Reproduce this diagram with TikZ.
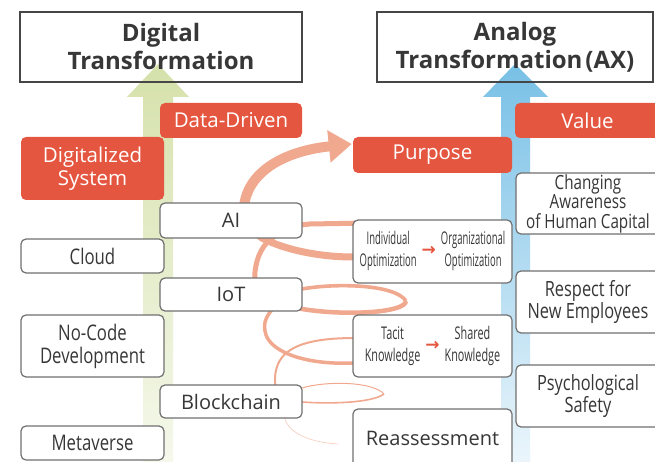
\documentclass[tikz,border=0pt]{standalone}
\usepackage{fontspec}
\usepackage{xcolor}
\usepackage{tikz}
\usetikzlibrary{arrows.meta, backgrounds}
\setmainfont{Open Sans}
\newfontfamily\condfont[FakeStretch=0.78]{Open Sans}
\newfontfamily\narrowfont[FakeStretch=0.54]{Open Sans}
\newfontfamily\slimfont[FakeStretch=0.62]{Open Sans}
\newfontfamily\symfont{DejaVu Sans}
\definecolor{dxgreen}{RGB}{206,220,156}
\definecolor{axblue}{RGB}{120,192,230}
\definecolor{tagred}{RGB}{229,86,64}
\definecolor{coilpink}{RGB}{240,168,142}
\definecolor{boxline}{RGB}{112,112,112}
\definecolor{titleline}{RGB}{70,70,70}
\definecolor{ink}{RGB}{55,55,55}
\newcommand{\shiftpair}[2]{\begin{tabular}{@{}c@{}}#1\end{tabular}\hspace{5pt}{\symfont\bfseries\fontsize{17}{17}\selectfont\color{tagred}→}\hspace{5pt}\begin{tabular}{@{}c@{}}#2\end{tabular}}
\tikzset{
  titlebox/.style={draw=titleline, line width=1.3pt, inner sep=0pt, align=center, text=ink, font=\bfseries\fontsize{24}{28}\selectfont},
  redtag/.style={fill=tagred, rounded corners=5pt, inner sep=0pt, align=center, text=white, font=\fontsize{20.5}{23.5}\selectfont},
  greybox/.style={draw=boxline, line width=1.2pt, fill=white, rounded corners=5pt, inner sep=0pt, align=center, text=ink, font=\fontsize{20}{23}\selectfont},
  condbox/.style={greybox, font=\condfont\fontsize{21.5}{23}\selectfont},
  pairbox/.style={greybox, font=\narrowfont\fontsize{17.5}{22}\selectfont},
  greenrise/.style={top color=dxgreen!85!white, bottom color=dxgreen!20!white},
  bluerise/.style={top color=axblue, bottom color=axblue!15!white},
  coil/.style={draw=coilpink}
}

\begin{document}
\begin{tikzpicture}[x=1pt, y=-1pt]
    \useasboundingbox (0,0) rectangle (655,462);
    \node[titlebox, minimum width=282pt, minimum height=70pt] (dxTitle) at (161,47) {Digital\\Transformation};
    \node[titlebox, minimum width=276pt, minimum height=70pt] (axTitle) at (515,47) {Analog\\Transformation\hspace{3pt}(AX)};
    \node[redtag, minimum width=142pt, minimum height=35pt] (dataDriven) at (231,120.5) {Data-Driven};
    \node[redtag, minimum width=143pt, minimum height=63pt] (digSystem) at (92.5,168.5) {Digitalized\\System};
    \node[redtag, minimum width=159pt, minimum height=36pt] (purpose) at (432.5,155) {Purpose};
    \node[redtag, minimum width=145pt, minimum height=35pt] (value) at (587.5,120.5) {Value};
    \node[greybox, minimum width=142pt, minimum height=35pt] (ai) at (231,220.5) {AI};
    \node[condbox, minimum width=143pt, minimum height=34pt] (cloud) at (92.5,256) {Cloud};
    \node[greybox, minimum width=142pt, minimum height=33pt] (iot) at (231,294.5) {IoT};
    \node[condbox, minimum width=143pt, minimum height=62pt] (noCode) at (92.5,346) {No-Code\\Development};
    \node[greybox, minimum width=142pt, minimum height=33pt] (blockchain) at (231,401.5) {Blockchain};
    \node[condbox, minimum width=143pt, minimum height=34pt] (metaverse) at (92.5,443) {Metaverse};
    \node[pairbox, minimum width=159pt, minimum height=63pt] (optimization) at (432.5,251.5) {\shiftpair{Individual\\Optimization}{Organizational\\Optimization}};
    \node[pairbox, font=\slimfont\fontsize{17.5}{22}\selectfont, minimum width=159pt, minimum height=62pt] (knowledge) at (432.5,346) {\shiftpair{Tacit\\Knowledge}{Shared\\Knowledge}};
    \node[greybox, minimum width=159pt, minimum height=58pt] (reassess) at (432.5,438) {Reassessment};
    \node[condbox, font=\condfont\fontsize{19.5}{19.5}\selectfont, minimum width=144pt, minimum height=61pt] (humanCapital) at (588,203.5) {Changing\\Awareness\\of Human Capital};
    \node[condbox, font=\condfont\fontsize{21}{22.5}\selectfont, minimum width=144pt, minimum height=62pt] (respect) at (588,302) {Respect for\\New Employees};
    \node[condbox, font=\condfont\fontsize{21}{22.5}\selectfont, minimum width=144pt, minimum height=62pt] (safety) at (588,396) {Psychological\\Safety};
    \begin{scope}[on background layer]
    \shade[greenrise] (143,462) -- (143,97) -- (127,97) -- (158,64) -- (189,97) -- (173,97) -- (173,462) -- cycle;
    \shade[bluerise] (501,462) -- (501,97) -- (483,97) -- (515,64) -- (548,97) -- (530,97) -- (530,462) -- cycle;
    % coil, thin at the bottom and thick at the top
    \draw[coil, line width=0.7pt, draw=coilpink!55] (338,444) .. controls (305,442) and (282,430) .. (284,410);
    \draw[coil, line width=1pt] (284,410) .. controls (286,396) and (292,390) .. (302,388) .. controls (325,381) and (372,381) .. (384,394);
    \draw[coil, line width=1.6pt] (384,394) .. controls (372,403) and (330,404) .. (302,402) -- (292,401);
    \draw[coil, line width=2pt] (292,401) .. controls (272,398) and (273,376) .. (278,364) .. controls (286,346) and (310,338) .. (355,338) -- (378,340);
    \draw[coil, line width=3.5pt] (378,362) -- (353,363) .. controls (305,365) and (272,352) .. (266,335) .. controls (262,322) and (266,314) .. (282,300);
    \draw[coil, line width=3.6pt] (282,300) .. controls (288,294) and (294,290) .. (302,289) .. controls (335,283) and (395,284) .. (406,301);
    \draw[coil, line width=4.5pt] (406,301) .. controls (405,313) and (345,316) .. (302,309) -- (290,306);
    \draw[coil, line width=5pt] (290,306) .. controls (262,302) and (253,290) .. (255,272) .. controls (257,255) and (263,244) .. (275,236) .. controls (285,229) and (295,225) .. (310,224) -- (368,223);
    \draw[coil, line width=7pt] (368,257) -- (353,257) .. controls (320,257) and (285,250) .. (262,238) .. controls (250,230) and (245,222) .. (245,218);
    \draw[coil, line width=10pt, -{Triangle[length=23pt, width=31pt]}] (245,225) .. controls (236,180) and (275,152) .. ([shift={(-1pt,11pt)}]purpose.west);
    \end{scope}
\end{tikzpicture}
\end{document}
